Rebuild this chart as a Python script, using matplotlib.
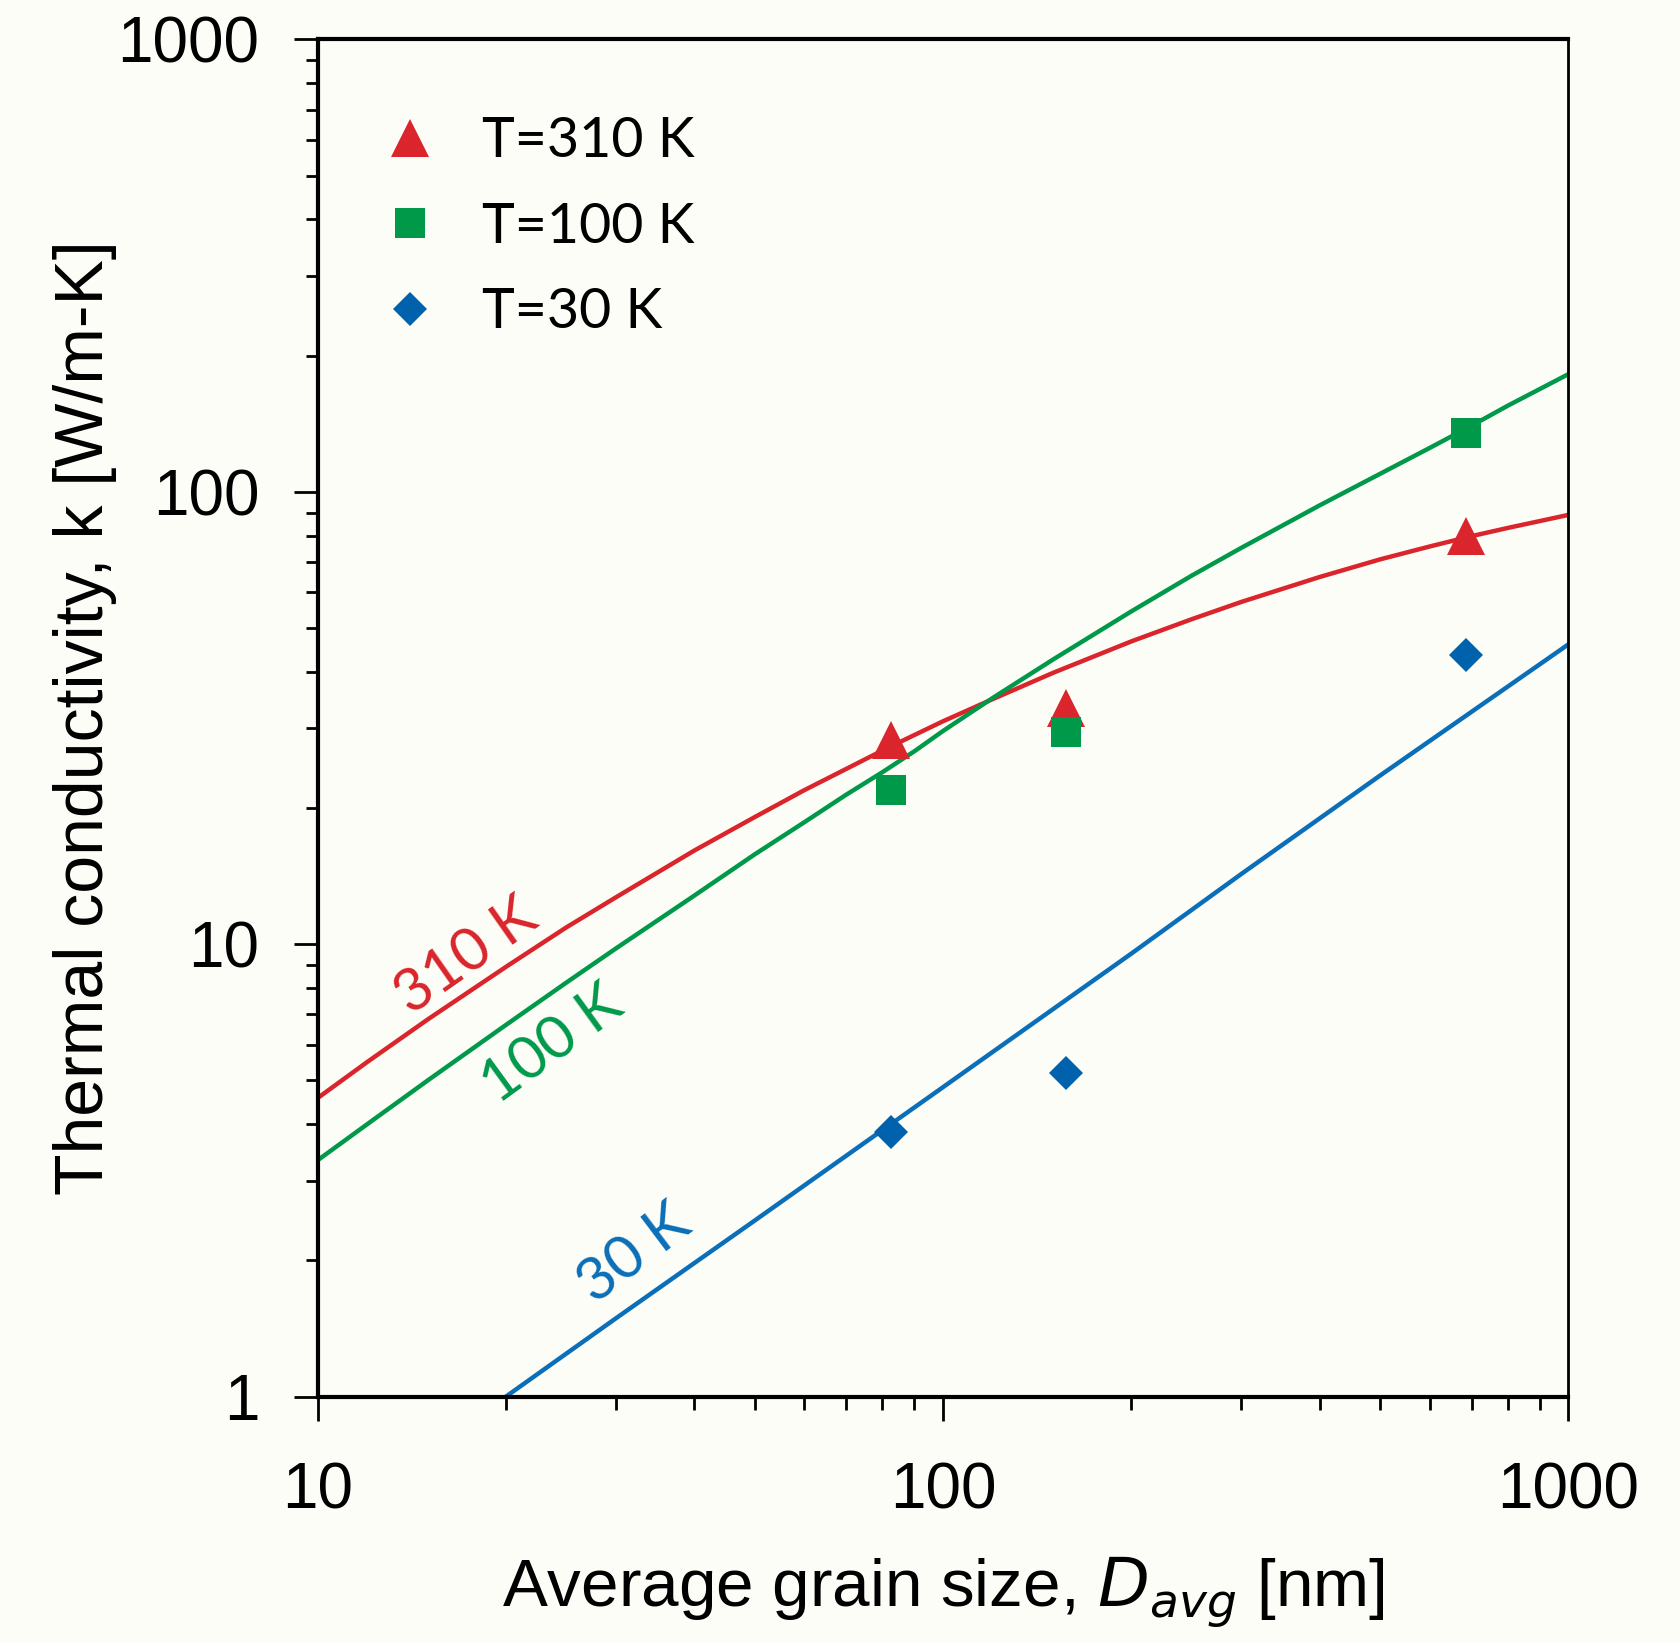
import matplotlib
matplotlib.use('Agg')
import matplotlib.pyplot as plt
from matplotlib.ticker import LogLocator, NullFormatter, FixedLocator

# measured points (grain size nm, k W/m-K)
d_meas = [82.7, 157, 687]
k_310 = [28.2, 33.3, 80]
k_100 = [21.9, 29.5, 135]
k_30 = [3.85, 5.2, 43.5]

# model curves
d_curve = [10, 12, 15, 20, 25, 30, 40, 50, 60, 70, 80, 90, 100, 120, 150,
           200, 250, 300, 400, 500, 600, 700, 800, 1000]
m_310 = [4.57, 5.49, 6.82, 8.91, 10.9, 12.7, 16.1, 19.1, 21.9, 24.4, 26.8,
         29.0, 31.1, 34.8, 39.8, 46.7, 52.3, 57.1, 64.8, 70.9, 75.7, 79.8,
         83.2, 88.9]
m_100 = [3.33, 4.00, 5.00, 6.63, 8.23, 9.79, 12.8, 15.8, 18.6, 21.4, 24.0,
         26.7, 29.6, 35.0, 42.6, 54.4, 65.3, 75.2, 93.3, 109.6, 125, 140,
         155, 182]
d_curve30 = [20, 30, 50, 100, 200, 300, 500, 1000]
m_30 = [1.0, 1.49, 2.45, 4.83, 9.53, 14.3, 23.6, 46.0]

red = '#d9252b'
green = '#00994a'
blue = '#0a6fb8'
blue_pt = '#0062ad'
bg = '#fdfdf7'

fig = plt.figure(figsize=(16.81, 16.43), dpi=100, facecolor=bg)
ax = fig.add_axes([0.189, 0.150, 0.744, 0.826])
ax.set_facecolor(bg)

ax.plot(d_curve, m_310, color=red, lw=3.2, zorder=2)
ax.plot(d_curve, m_100, color=green, lw=3.2, zorder=2)
ax.plot(d_curve30, m_30, color=blue, lw=3.2, zorder=2)

ax.plot(d_meas, k_310, '^', color=red, ms=27, mew=0, ls='none', label='T=310 K', zorder=3)
ax.plot(d_meas, k_100, 's', color=green, ms=21, mew=0, ls='none', label='T=100 K', zorder=3)
ax.plot(d_meas, k_30, 'D', color=blue_pt, ms=17, mew=0, ls='none', label='T=30 K', zorder=3)

ax.set_xscale('log')
ax.set_yscale('log')
ax.set_xlim(10, 1000)
ax.set_ylim(1, 1000)

ax.xaxis.set_major_locator(FixedLocator([10, 100, 1000]))
ax.yaxis.set_major_locator(FixedLocator([1, 10, 100, 1000]))
ax.xaxis.set_minor_locator(LogLocator(base=10, subs=range(2, 10)))
ax.yaxis.set_minor_locator(LogLocator(base=10, subs=range(2, 10)))
ax.xaxis.set_minor_formatter(NullFormatter())
ax.yaxis.set_minor_formatter(NullFormatter())
ax.set_xticklabels(['10', '100', '1000'])
ax.set_yticklabels(['1', '10', '100', '1000'])

for lab in ax.get_xticklabels() + ax.get_yticklabels():
    lab.set_fontfamily('Liberation Sans')
    lab.set_fontsize(46)

ax.tick_params(which='major', direction='out', length=17, width=2, pad=25, top=False, right=False)
ax.tick_params(which='minor', direction='out', length=9, width=2, top=False, right=False)
ax.tick_params(axis='x', which='major', pad=30)

for side in ['left', 'bottom', 'top']:
    ax.spines[side].set_linewidth(3)
ax.spines['right'].set_linewidth(2)

ax.set_xlabel('Average grain size, $D_{avg}$ [nm]', fontfamily='Liberation Sans', fontsize=48.5, labelpad=24)
ax.set_ylabel('Thermal conductivity, k [W/m-K]', fontfamily='Liberation Sans', fontsize=49, labelpad=0)

lab_font = 'Lato'
ax.text(17.3, 9.4, '310 K', color=red, fontsize=43, family=lab_font, rotation=35, ha='center', va='center')
ax.text(23.7, 6.0, '100 K', color=green, fontsize=43, family=lab_font, rotation=36, ha='center', va='center')
ax.text(32.1, 2.07, '30 K', color=blue, fontsize=43, family=lab_font, rotation=37, ha='center', va='center')

leg = ax.legend(loc='upper left', bbox_to_anchor=(0.029, 0.964), frameon=False,
                prop={'family': lab_font, 'size': 40}, handlelength=1.0,
                handletextpad=0.81, labelspacing=0.62, borderpad=0)

fig.savefig('out.png', dpi=100, facecolor=bg)
